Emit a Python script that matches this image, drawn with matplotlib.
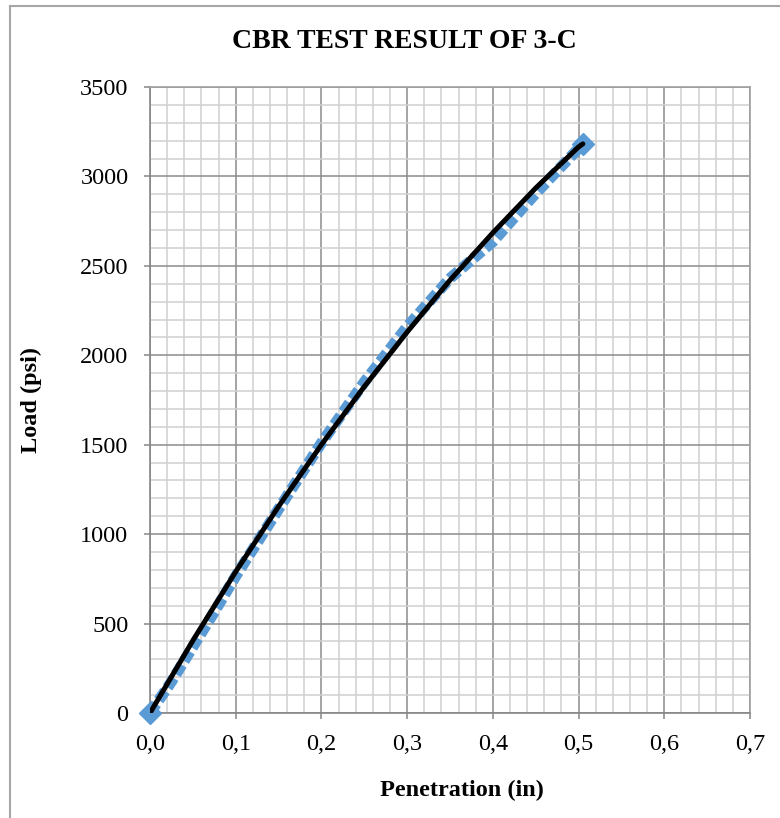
import matplotlib
matplotlib.use("Agg")
import matplotlib.pyplot as plt
from matplotlib.ticker import MultipleLocator, FuncFormatter
from matplotlib.lines import Line2D

# ---- data ----
penetration = [0.0, 0.025, 0.05, 0.075, 0.1, 0.15, 0.2, 0.25, 0.3, 0.35, 0.4, 0.45, 0.505]
load = [0, 175, 370, 565, 765, 1140, 1510, 1850, 2160, 2430, 2635, 2905, 3182]

trend_x = [0.0, 0.05, 0.1, 0.15, 0.2, 0.25, 0.3, 0.35, 0.4, 0.45, 0.5, 0.505]
trend_y = [0, 405, 790, 1155, 1500, 1825, 2130, 2420, 2685, 2935, 3165, 3182]

x_ticks = [0.0, 0.1, 0.2, 0.3, 0.4, 0.5, 0.6, 0.7]
y_ticks = [0, 500, 1000, 1500, 2000, 2500, 3000, 3500]

title = "CBR TEST RESULT OF 3-C"
xlabel = "Penetration (in)"
ylabel = "Load (psi)"

plt.rcParams['font.family'] = ['Liberation Serif', 'DejaVu Serif']

W, H = 780, 818
fig = plt.figure(figsize=(W / 100, H / 100), dpi=100)
fig.patch.set_facecolor('white')

# chart frame (left/top)
fig.add_artist(Line2D([10 / W, 10 / W], [0, 1 - 6 / H], color='#A6A6A6', lw=1.5,
                      transform=fig.transFigure))
fig.add_artist(Line2D([10 / W, 1], [1 - 6 / H, 1 - 6 / H], color='#A6A6A6', lw=1.5,
                      transform=fig.transFigure))

ax = fig.add_axes([150 / W, 105 / H, 600 / W, 626 / H])
ax.set_xlim(0, 0.7)
ax.set_ylim(0, 3500)

ax.set_xticks(x_ticks)
ax.set_yticks(y_ticks)
ax.xaxis.set_minor_locator(MultipleLocator(0.02))
ax.yaxis.set_minor_locator(MultipleLocator(100))
ax.xaxis.set_major_formatter(FuncFormatter(lambda v, p: f"{v:.1f}".replace('.', ',')))
ax.yaxis.set_major_formatter(FuncFormatter(lambda v, p: f"{int(round(v))}"))

ax.grid(which='minor', color='#D0D0D0', lw=1.1)
ax.grid(which='major', color='#8C8C8C', lw=1.1)
ax.set_axisbelow(True)

for s in ax.spines.values():
    s.set_color('#A0A0A0')
    s.set_linewidth(1.2)
ax.spines['left'].set_color('#868686')
ax.spines['bottom'].set_color('#868686')

ax.tick_params(which='major', length=4, width=1.1, color='#868686', labelsize=17.5,
               labelcolor='black')
ax.tick_params(axis='y', pad=11.5)
ax.tick_params(axis='x', pad=11)
ax.tick_params(which='minor', length=0)

# data series: thick square-dot blue line with diamond end markers
ax.plot(penetration, load, color='#5B9BD5', lw=8, linestyle=(0, (1.0, 0.4)),
        solid_capstyle='butt', dash_capstyle='butt', zorder=3)
ax.plot([penetration[0], penetration[-1]], [load[0], load[-1]], linestyle='none',
        marker='D', markersize=11, color='#5B9BD5', zorder=3, clip_on=False)

# trend line
ax.plot(trend_x, trend_y, color='black', lw=3.6, solid_capstyle='round', zorder=4)

fig.text(462 / W, 1 - 790 / H, xlabel, ha='center', va='center', fontsize=17.5,
         fontweight='bold')
fig.text(31 / W, 1 - 400 / H, ylabel, ha='center', va='center', rotation=90,
         fontsize=17.5, fontweight='bold')
fig.text(404 / W, 1 - 42 / H, title, ha='center', va='center', fontsize=20,
         fontweight='bold')

fig.savefig('out.png', dpi=100, facecolor='white')
